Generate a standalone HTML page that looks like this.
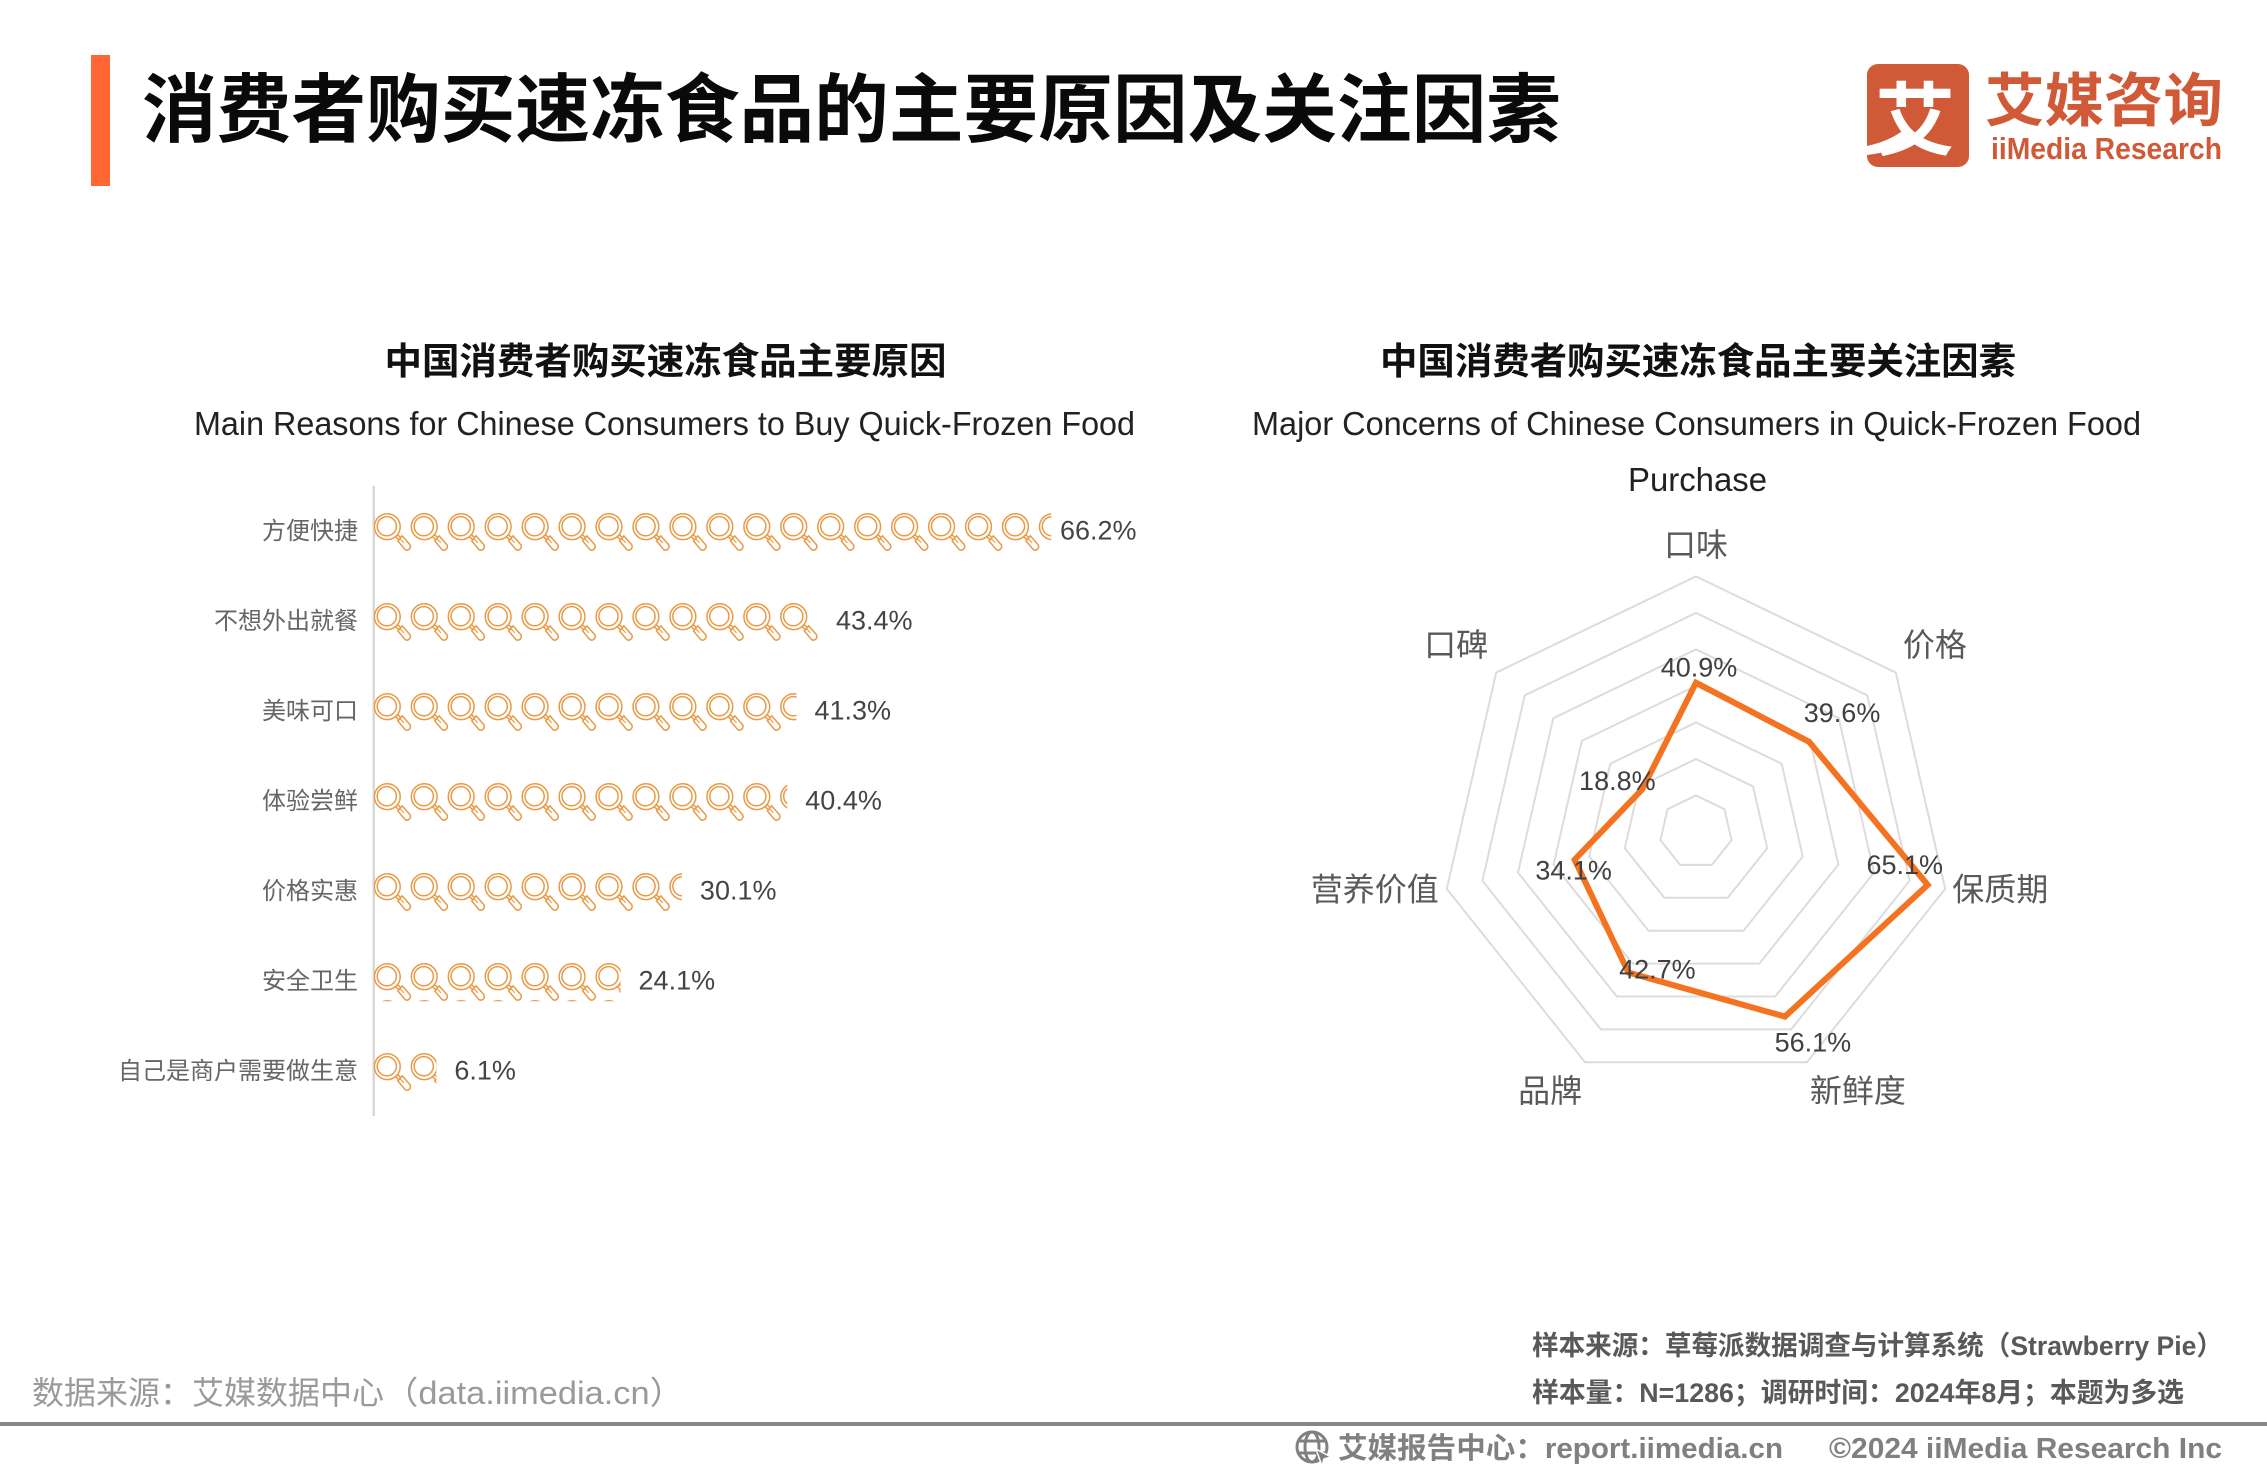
<!DOCTYPE html>
<html lang="zh-CN">
<head>
<meta charset="utf-8">
<title>消费者购买速冻食品的主要原因及关注因素</title>
<style>
html,body{margin:0;padding:0;background:#fff;width:2267px;height:1474px;overflow:hidden}
svg{display:block}
text{font-family:"Liberation Sans","Noto Sans CJK SC",sans-serif}
.b{font-weight:700}
</style>
</head>
<body>
<svg id="page" xmlns="http://www.w3.org/2000/svg" width="2267" height="1474" viewBox="0 0 2267 1474">
  <defs>
    <g id="lens-icon" fill="none" stroke="#e89a45" stroke-width="1.5">
      <circle cx="13.3" cy="13.4" r="12.9"/>
      <circle cx="12.8" cy="12.9" r="9.6"/>
      <path d="M21.8 23.6L24.8 26.4M23.8 21.6L26.8 24.4"/>
      <path d="M23.9 27.7L28.2 22.6L35.8 31.2Q37.4 33.4 35.4 35.8Q33.2 37.8 31 36.2Z"/>
      <path d="M26 25.3L30 29.6" stroke-width="1.1"/>
    </g>
  </defs>

  <rect x="91" y="55" width="19" height="131" fill="#ff6633"/>
  <text class="b" x="142" y="136" font-size="75" fill="#0a0a0a" textLength="1419" lengthAdjust="spacingAndGlyphs">消费者购买速冻食品的主要原因及关注因素</text>

  <g>
    <rect x="1867" y="64" width="102" height="103" rx="11" fill="#d05a38"/>
    <text class="b" x="1915" y="149" font-size="80" fill="#fff" text-anchor="middle">艾</text>
    <path d="M1867 146Q1890 141 1905 129L1914 140Q1894 152 1867 155Z" fill="#fff"/>
    <text class="b" x="1985" y="121" font-size="58" fill="#d05a38" textLength="238" lengthAdjust="spacingAndGlyphs">艾媒咨询</text>
    <text class="b" x="1991" y="159" font-size="31" fill="#d05a38" textLength="231" lengthAdjust="spacingAndGlyphs">iiMedia Research</text>
  </g>

  <text class="b" x="384.5" y="374" font-size="37" fill="#111" textLength="562" lengthAdjust="spacingAndGlyphs">中国消费者购买速冻食品主要原因</text>
  <text x="194" y="435" font-size="33" fill="#222" textLength="941" lengthAdjust="spacingAndGlyphs">Main Reasons for Chinese Consumers to Buy Quick-Frozen Food</text>
  <text class="b" x="1380" y="374" font-size="37" fill="#111" textLength="636" lengthAdjust="spacingAndGlyphs">中国消费者购买速冻食品主要关注因素</text>
  <text x="1252" y="435" font-size="33" fill="#222" textLength="889" lengthAdjust="spacingAndGlyphs">Major Concerns of Chinese Consumers in Quick-Frozen Food</text>
  <text x="1628" y="491" font-size="33" fill="#222" textLength="139" lengthAdjust="spacingAndGlyphs">Purchase</text>

  <g id="pictorial-chart"></g>
  <g id="radar-chart"></g>

  <text x="32" y="1404" font-size="32" fill="#9a9a9a">数据来源：艾媒数据中心</text>
  <text x="384" y="1404" font-size="32" fill="#9a9a9a" textLength="300" lengthAdjust="spacingAndGlyphs">（data.iimedia.cn）</text>
  <text class="b" x="1532" y="1355" font-size="27" fill="#595959" textLength="691" lengthAdjust="spacingAndGlyphs">样本来源：草莓派数据调查与计算系统（Strawberry Pie）</text>
  <text class="b" x="1532" y="1402" font-size="27" fill="#595959" textLength="652" lengthAdjust="spacingAndGlyphs">样本量：N=1286；调研时间：2024年8月；本题为多选</text>
  <rect x="0" y="1422" width="2267" height="4" fill="#888"/>
  <g fill="none" stroke="#808080" stroke-width="3">
    <circle cx="1312" cy="1447" r="15"/>
    <ellipse cx="1312" cy="1447" rx="7" ry="15"/>
    <path d="M1298 1441H1326M1298 1453H1326"/>
    <path d="M1316 1449L1331 1457L1324 1459L1322 1466Z" fill="#808080" stroke="#fff" stroke-width="1.5"/>
  </g>
  <text class="b" x="1338" y="1458" font-size="29" fill="#808080" textLength="445" lengthAdjust="spacingAndGlyphs">艾媒报告中心：report.iimedia.cn</text>
  <text class="b" x="1829" y="1458" font-size="29" fill="#808080" textLength="393" lengthAdjust="spacingAndGlyphs">©2024  iiMedia Research  Inc</text>
</svg>

<script>
var reasonCategories = ['方便快捷','不想外出就餐','美味可口','体验尝鲜','价格实惠','安全卫生','自己是商户需要做生意'];
var reasonValues = [66.2,43.4,41.3,40.4,30.1,24.1,6.1];
var concernCategories = ['口味','价格','保质期','新鲜度','品牌','营养价值','口碑'];
var concernValues = [40.9,39.6,65.1,56.1,42.7,34.1,18.8];
var radarMaximum = 70;
var radarRingStep = 10;

var NS = 'http://www.w3.org/2000/svg';
function make(tag, parent, attrs, content) {
  var el = document.createElementNS(NS, tag);
  for (var k in attrs) { el.setAttribute(k, attrs[k]); }
  if (content !== undefined) { el.textContent = content; }
  parent.appendChild(el);
  return el;
}
var XLINK = 'http://www.w3.org/1999/xlink';

/* ---------- pictorial bar chart ---------- */
var axisX = 374, axisTop = 486, bandHeight = 90, pxPerPercent = 10.23, tileW = 36.95, tileH = 37;
function xScale(v) { return v * pxPerPercent; }
function yBand(i) { return axisTop + bandHeight * (i + 0.5) - 1; }

var pict = document.getElementById('pictorial-chart');
var defs = document.querySelector('defs');
var axisLine = make('rect', pict, {x: axisX - 1.5, y: axisTop, width: 2.5, height: bandHeight * reasonValues.length, fill: '#d8d8d8'});



reasonValues.forEach(function (v, i) {
  var cy = yBand(i), top = cy - 16.7, w = xScale(v);
  var label = make('text', pict, {x: 358, y: cy + 9, 'font-size': 24, fill: '#666', 'text-anchor': 'end'}, reasonCategories[i]);
  
  

  var clip = make('clipPath', defs, {id: 'bar-clip-' + i});
  make('rect', clip, {x: axisX, y: top - 1, width: w, height: tileH + 2});

  var bar = make('g', pict, {'clip-path': 'url(#bar-clip-' + i + ')'});
  
  
  var count = Math.ceil((w - 2) / tileW);
  var rows = i === 5 ? 2 : 1;
  for (var r = 0; r < rows; r++) {
    for (var c = 0; c < count; c++) {
      var u = make('use', bar, {x: axisX + c * tileW, y: top + r * tileH});
      u.setAttribute('href', '#lens-icon');
      u.setAttributeNS(XLINK, 'xlink:href', '#lens-icon');
      
      
    }
  }
  var valueText = make('text', pict, {x: Math.min(axisX + w + 18, 1060), y: cy + 9.5, 'font-size': 27, fill: '#444'}, v.toFixed(1) + '%');
  
  
});

/* ---------- radar chart ---------- */
var cx = 1696, cy = 832, radius = 255.6;
var dataLabelOffsets = [[3,-15],[33,-29],[-23,-20],[28,26],[29,-3],[-1,11],[-25,-8]];
var radar = document.getElementById('radar-chart');
var spokeCount = concernCategories.length;
function angle(i) { return 2 * Math.PI * i / spokeCount; }
function rScale(v) { return v / radarMaximum * radius; }
function polar(i, v) {
  return [cx + rScale(v) * Math.sin(angle(i)), cy - rScale(v) * Math.cos(angle(i))];
}
function pointList(valueAt) {
  return concernCategories.map(function (_, i) { return polar(i, valueAt(i)).map(function (n) { return n.toFixed(1); }).join(','); }).join(' ');
}
for (var level = radarRingStep; level <= radarMaximum; level += radarRingStep) {
  var ring = make('polygon', radar, {points: pointList(function () { return level; }), fill: 'none', stroke: '#dcdcdc', 'stroke-width': 2});
  
  
}
var seriesLine = make('polygon', radar, {points: pointList(function (i) { return concernValues[i]; }), fill: 'none', stroke: '#f47320', 'stroke-width': 6, 'stroke-linejoin': 'miter'});



concernCategories.forEach(function (name, i) {
  var p = polar(i, radarMaximum), s = Math.sin(angle(i)), c = Math.cos(angle(i));
  var dx = Math.abs(s) < 0.01 ? 0 : (c < -0.5 ? (s > 0 ? 3 : -3) : (s > 0 ? 7 : -8));
  var dy = c > 0.9 ? -32 : (c > 0.5 ? -28 : (c < -0.5 ? 28 : 0));
  var anchor = Math.abs(s) < 0.01 ? 'middle' : (s > 0 ? 'start' : 'end');
  var t = make('text', radar, {x: p[0] + dx, y: p[1] + dy + 11.5, 'font-size': 32, fill: '#595959', 'text-anchor': anchor}, name);
  
  
});
concernValues.forEach(function (v, i) {
  var p = polar(i, v);
  var t = make('text', radar, {x: p[0] + dataLabelOffsets[i][0], y: p[1] + dataLabelOffsets[i][1] + 9, 'font-size': 27, fill: '#404040', 'text-anchor': 'middle'}, v.toFixed(1) + '%');
  
  
});
</script>
</body>
</html>
